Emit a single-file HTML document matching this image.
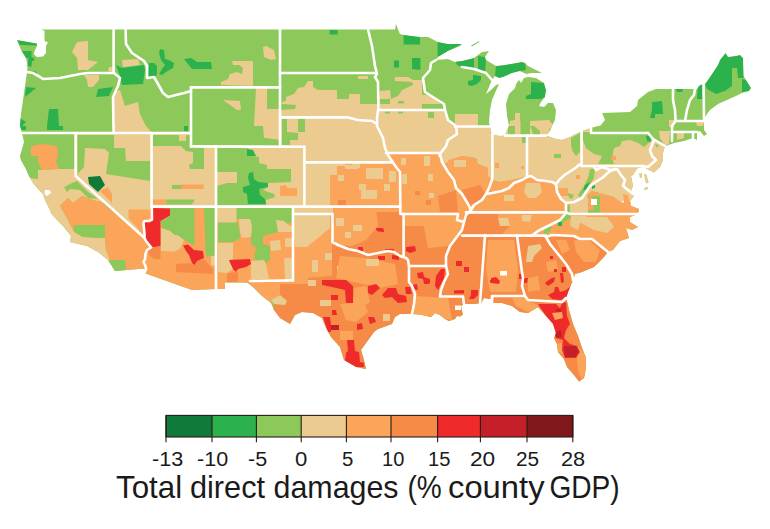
<!DOCTYPE html>
<html><head><meta charset="utf-8"><title>Total direct damages</title>
<style>html,body{margin:0;padding:0;background:#fff}body{width:770px;height:529px;overflow:hidden;font-family:"Liberation Sans",sans-serif}svg{display:block}text{font-family:"Liberation Sans",sans-serif;fill:#1a1a1a}</style>
</head><body>
<svg width="770" height="529" viewBox="0 0 770 529">
<rect width="770" height="529" fill="#fff"/>
<defs><clipPath id="us"><polygon points="40.5,28.5 43,29.4 120,29.4 200,29.4 280,29.4 368,29.4 395,29.4 396,24 398,29.4 400,34 404,35 420,37 428,37 438,42 448,44 462,44 460,46 448,51 438,57 436,60 448,59 455,62 462,61 474,58 482,52 489,51 485,57 486,60 496,66 505,65 522,62 525,63 528,66 534,69 542,73 532,73 526,74 520,71 512,73 503,77 499,78 495,76 492,80 489,87 486,94 491,90 496,85 499,84 495,93 492,100 490,110 489,123 490,126 491,132 494,135 500,136 505,135.6 507,130 509,126 507,116 506,104 509,94 515,88 516,84 519,80 521,83 524,78 528,77 536,78 544,83 546,90 545,97 541,102 539,106 544,107 548,103 553,103 556,110 555,120 552,126 550,131 546,135.6 556,139 562,140 570,137 582,131 591,128 598,126 600,126 605,120 602,113 616,112.5 630,112 637,106 638,100 648,92 656,89 673,89 695,89 696,90 700,85 703,84 705,84 708,80 718,65 720,60 725.6,53 728,57 736,56 740,55 743,58 743.6,76 746,80 751,88 749,91 742,93 736,96 727,100 718,104 710,110 707,114 704,119 704,126 704,130 707,134 704,136 700,131 697,132 697,140 693,138 684,141 674,143 666,146 665,146 663,153 663,160 660,167 654,172.5 649,170 643,166.5 637,168.5 633,175 631,176 633,186 631,190 634,196 630,201 631,206 639,209 638,214 630,217 630,222 638,227 632,230 626,228 629,238 620,241 613,250 608,252 603,258 594,267 582,272 575,274 573,280 568,292 566,299 567,301 569,310 573,324 578,336 582,348 586,358 586,368 584,378 579,381.6 574,375 567,367 564,359 558,352 557,344 554,338 556,333 553,324 546,316 538,307 528,313 520,312 512,306 502,303 492,303 494,297 490,299 484,298 481,303.5 479,303.5 472,304 464,304 461,306 462,311 463,314.5 460,316.5 457,316 455,319 449,321 445,319 440,315 435,313 431,317 420,314.5 412,314 410,314 400,314 395,317 392,324 378,329 374,332 366,343 361,350 364,360 366,369 356,367 344,360 340,347 331,337 326,328 322,318 313,313 302,312 295,315 290,324 280,318 274,310 271,303 262,296 254,288 248,283 246,282.6 225,282.6 225,289 216,289 192,290 154,276.5 144.5,273 144,268.5 115,271 108,260 98,252 87,246 70,242 71,236 63,226 57,220 51.5,214 48.5,207 45,200 43,194 38,189 33,183 29,176 26,169 21,160 20,156 24,142 22,133 20,126 21,114 25,86 27,72 27.5,66 26,58 22,52 18.5,44 17,40 37,43.5 37,46 34.5,51 34,54.5 37,57 43,56.5 46,53 46,46 48,42.5 44.5,41 44.5,31"/>
<polygon points="471,45.5 479,41 479.5,42 472,46.5"/>
<polygon points="639.5,173 641.5,173 642,178 640,178"/><polygon points="644.5,174 646,174 648.5,182 646.5,183.5 645,180"/><polygon points="644.5,188 648,187 647,189.5 644.5,190"/>
</clipPath></defs>
<g clip-path="url(#us)">
<rect width="770" height="420" fill="#8cc95a"/>
<polygon fill="#ebcb8f" points="114,133 113,97 115,92 120,90 125,106 138,102 140,114 146,126 152,133"/>
<polygon fill="#ebcb8f" points="75.6,133 151.6,133 151.6,206.6 152,219.5 149,221 144.5,221 143.5,223 144.5,234 144.5,238 75.6,176"/>
<polygon fill="#ebcb8f" points="151.6,133 191,133 191,146.4 216,146.4 216,206.6 151.6,206.6"/>
<polygon fill="#ebcb8f" points="216,146.4 304.4,146.8 304.4,206.6 216,206.6"/>
<polygon fill="#ebcb8f" points="256,88 267,88 267,109 279,109 279,140 264,138 263,126 254,126"/>
<polygon fill="#ebcb8f" points="223,100 240,101 241,110 237,110 230,105"/>
<polygon fill="#ebcb8f" points="280,117 280,110 295,109 296,105 282,104 282,102 286,101 286,97 294,94 298,88 304,87 308,81 313,81 313,87 318,90 337,90 337,99 349,99 349,94 360,94 360,104 378,104 380,91 390,90 391,99 398,96 402,90 413,85 412,82 395,81 394.4,77 408,77 413,80 422,80 422,95 426,95 433,97 440,104 422,104 422,110 445,110 448,120 455,126 455,114 478,114 478,126 490,126 490,126 509,126 510,121 515,120 515,113 520,113 520,121 530,121 549,120 554,126 548,130 566,128 582,126 591,126 591,133 648,133 654,140 653,139 665,146 670,160 660,200 639,208 631,200 626,203 620,202 614,197 606,195 592,191 586,196 586,205 578,208 566,203 561,199 557,192 556,184 552,182 546,181 537,180 531,176 527,177 520,178 512,180 500,182 492,180 488,176 488,168 478,164 476,158 462,156 452,160 444,164 441,158 440,154 439,153 386,153 388,155 392,161 392,163 345,163 345,166 337,166 337,175 330,175 330,207 304,207 304,147 280,147"/>
<polygon fill="#ebcb8f" points="24,177 38,179 38,170 59,169 75.6,169 75.6,176 108,204 96,201 82,196 73,203 68,198 60,206 68,220 74,232 83,237 105,238 106,250 110,260 104,266 94,256 84,250 64,246 55,228 42,208 36,194 30,188"/>
<polygon fill="#ebcb8f" points="659,131 670,131 669,144 665,146 660,138"/>
<polygon fill="#ebcb8f" points="669,120 674,120 674,127 669,127"/>
<polygon fill="#ebcb8f" points="677,133 684,133 684,138 677,140"/>
<polygon fill="#ebcb8f" points="696,122 704,121 703,126 697,126"/>
<polygon fill="#ebcb8f" points="232,61 253,61 253,86 221,85 221,82 228,79 230,74 237,72 242,74 243,68 239,65 233,65"/>
<polygon fill="#ebcb8f" points="263,47 266,46 274,50 276,59 271,60 264,57"/>
<polygon fill="#ebcb8f" points="77,42 88,41 88,60 98,62 88,70 78,70 77,58 72,52"/>
<polygon fill="#ebcb8f" points="109,67 113,67 113,72 108,71"/>
<polygon fill="#ebcb8f" points="84,75 99,75 99,80 93,87 88,87 87,80"/>
<polygon fill="#ebcb8f" points="122,60 138,59 140,65 123,67"/>
<polygon fill="#ebcb8f" points="358,76 368,76 368,79 358,79"/>
<polygon fill="#ebcb8f" points="426,95 433,97 440,104 426,104"/>
<polygon fill="#fba55a" points="31,146 42,144 57,146 58,156 56,162 59,169 42,170 39,163 31,162"/>
<polygon fill="#fba55a" points="60,206 68,198 73,203 82,196 96,201 100,201 144.5,238 146,241 150,246 151,247.5 147,250 145.5,254 145,259 143.5,262 145.5,266 146,269 145,276 126,276 125,260 110,260 106,250 105,238 105,226 74,226 74,232 68,220"/>
<polygon fill="#fba55a" points="100,191 108,187 112,194 112,203"/>
<polygon fill="#fba55a" points="128.5,209.5 152,209.5 152,219.5 149,221 144.5,221 143.5,223 144.5,238 137.5,228 128.5,218.5"/>
<polygon fill="#fba55a" points="181,184.6 203.6,184.6 203.6,189 181,189"/>
<polygon fill="#fba55a" points="152,199.5 166,199.5 167,204.5 152,204.5"/>
<polygon fill="#fba55a" points="280,186 286,185 287,188 297,188 297,196 280,196"/>
<polygon fill="#fba55a" points="151.6,206.6 216,206.6 216,292 192,292 154,279 142,274 143.5,262 145,259 145.5,254 147,250 151,247.5 150,246 146,241 144.5,238 144.5,234 143.5,223 144.5,221 149,221 152,219.5"/>
<polygon fill="#fba55a" points="216,206.6 293,206.6 293,284 250,285 246,287 225,287 225,293 216,293"/>
<polygon fill="#fba55a" points="293,206.6 333,206.6 333,276 308,278 308,284 280,284 280,295 271,300 272,312 262,308 256,300 248,292 242,284 250,281 293,280.4"/>
<polygon fill="#fba55a" points="330,207 330,175 337,175 337,166 345,166 345,163 392,163 392,161 388,155 386,153 439,153 440,154 441,158 444,164 452,160 462,156 476,158 478,164 488,168 488,176 492,180 500,182 512,180 520,178 527,177 531,176 537,180 546,181 552,182 556,184 557,192 561,199 566,203 570,203 570,213 600,213 600,196 586,196 592,191 606,195 614,197 620,202 626,203 631,200 645,208 645,240 608,252 592,239 580,239 574,236 552,235 546,236 466,236 462,230 456,238 450,246 446,246 428,248 424,226 403,226 403,214 400.4,214 400.4,207"/>
<polygon fill="#f58b47" points="332,206.6 400.4,206.6 400.4,214 403,214 403,226 424,226 428,248 446,246 450,246 456,238 462,230 466,236 546,236 552,235 574,236 580,239 592,239 608,252 640,260 600,400 340,400 270,330 274,304 285,305 287,301 280,295 280,284 308,284 308,278 332,276"/>
<polygon fill="#f58b47" points="464,214 498,214 498,218 508,218 510,226 500,236 462,236 462,226"/>
<polygon fill="#f58b47" points="462,190 480,185 486,194 474,205 468,204"/>
<polygon fill="#f58b47" points="438,196 456,190 458,212 440,212"/>
<polygon fill="#f58b47" points="426,200 431,200 431,205 426,205"/>
<polygon fill="#f58b47" points="151,247.5 160.5,246.5 160.5,259 154,259 150,256 147,250"/>
<polygon fill="#f58b47" points="176,264 190,263 194,265 197,261 204,259 213,269 213,274 176,272"/>
<polygon fill="#f58b47" points="227,273 238,272 238,282 227,282"/>
<polygon fill="#8cc95a" points="77.6,135 114,135 114,148 125,148 126,161 150,161 150,181 106,174 109,153 105,149 85,148 84,167 77.6,174"/>
<polygon fill="#8cc95a" points="64,187 72,183 77,181 80,184 88,192 98,199 88,198 80,190 70,189 67,192"/>
<polygon fill="#8cc95a" points="14,156 38,156 38,179 24,177 18,166"/>
<polygon fill="#8cc95a" points="74,225 105,225 105,238 83,237 75,232"/>
<polygon fill="#8cc95a" points="110,260 125,260 126,276 112,276 106,262"/>
<polygon fill="#8cc95a" points="152,135 178,135 178,146 152,146"/>
<polygon fill="#8cc95a" points="186,135 190,135 190,147 204,148 204,169 190,169 189,165 193,163 193,152 186,151 181,146 178,146 178,135"/>
<polygon fill="#8cc95a" points="172,185 181,185 181,189 172,189"/>
<polygon fill="#8cc95a" points="166,199.5 195,199.5 192,204.5 167,204.5"/>
<polygon fill="#8cc95a" points="217,148 247,148 254,156 259,157 259,163 267,165 267,169 291,169 291,182 268,183 268,187 263,190 274,194 275,197 266,200 266,205.6 217,205.6 217,186 227,183 237,183 237,172 217,172"/>
<polygon fill="#8cc95a" points="282,119 287,119 287,132 298,133 298,140 290,140 290,145 282,145"/>
<polygon fill="#8cc95a" points="298,119 305,119 305,132 298,132"/>
<polygon fill="#8cc95a" points="264,138 279,140 279,146 264,146"/>
<polygon fill="#8cc95a" points="170,208 194.5,208 194.5,246 192,244 184,240 179,236 174,234.5 170,231 162,228 161,221 170,216"/>
<polygon fill="#8cc95a" points="204,208 215,208 215,255 207,257 205.6,252"/>
<polygon fill="#8cc95a" points="218,226 239,226 240,238 234,242 218,242"/>
<polygon fill="#8cc95a" points="236,208 292,208 292,222 283,226 283,231 270,234 263,236 263,244 270,246 270,260 266,263 254,259 256,248 251,244 251,237 252,226 250,219 236,219"/>
<polygon fill="#8cc95a" points="218,222 238,222 238,226 218,226"/>
<polygon fill="#ebcb8f" points="217,208 236.5,208 236.5,222.5 217,222.5"/>
<polygon fill="#ebcb8f" points="239,219 250,219 252,226 251,237 242,238 240,232"/>
<polygon fill="#ebcb8f" points="270,241 280,240 281,250 271,251"/>
<polygon fill="#ebcb8f" points="284,226 292,226 292,232 285,232"/>
<polygon fill="#ebcb8f" points="285,238 292,238 292,247 285,247"/>
<polygon fill="#ebcb8f" points="284,258 292,258 292,279 285,279"/>
<polygon fill="#ebcb8f" points="218,243 233,243 233,259 229,261 233,269 227,273 218,272"/>
<polygon fill="#ebcb8f" points="251,261 264,260 266,264 269,279 251,279"/>
<polygon fill="#ebcb8f" points="276,220 284,221 290,226 290,232 278,232"/>
<polygon fill="#ebcb8f" points="161,228 170,231 174,234.5 179,236 184,240 180,249 174,251.5 161,251"/>
<polygon fill="#ebcb8f" points="211,256 215,256 215,266 211,265"/>
<polygon fill="#8cc95a" points="380,99 390,99 390,104 380,104"/>
<polygon fill="#8cc95a" points="398,101 404,101 404,103.6 398,103.6"/>
<polygon fill="#8cc95a" points="428,112 434,112 434,118 428,118"/>
<polygon fill="#8cc95a" points="385,111.6 390,111.6 390,113.6 385,113.6"/>
<polygon fill="#8cc95a" points="398,111.6 403,111.6 403,113.6 398,113.6"/>
<polygon fill="#8cc95a" points="571,138 580,133 580,152 576,156 573,152 571,146"/>
<polygon fill="#8cc95a" points="554,154 561,154 561,158 554,158"/>
<polygon fill="#8cc95a" points="522,137 526,137 526,143 522,143"/>
<polygon fill="#8cc95a" points="583,132 648,132 652,140 644,147 638,143 630,140 622,141 620,146 614,148 612,158 614,164 598,164 602,156 594,154 586,148 583,140"/>
<polygon fill="#8cc95a" points="655,144 659,145 657,148"/>
<polygon fill="#8cc95a" points="590,169 595,169 594,178 590,184 584,194 580,198 578,195 584,186 588,178"/>
<polygon fill="#8cc95a" points="565,206 576,205 578,208 573,214 571,218 564,222 560,226 557,225 562,219 566,213"/>
<polygon fill="#8cc95a" points="544,227 552,226 550,232 544,235"/>
<polygon fill="#8cc95a" points="568,193 574,195 572,199 567,197"/>
<polygon fill="#2bb24c" points="585,185 590,182 588,188 583,191"/>
<polygon fill="#2bb24c" points="558,222 562,222 562,226 558,226"/>
<polygon fill="#2bb24c" points="592,186 595,185 595,188 592,189"/>
<polygon fill="#2bb24c" points="17,40 37,43.5 36.5,45.5 20,45"/>
<polygon fill="#2bb24c" points="22,51 31.5,51 31.5,57 34.5,58.5 34,61 32,61 31.5,66.5 27.5,66.5 28.5,58 26,58"/>
<polygon fill="#2bb24c" points="33,71 37,72 36,76 32,74"/>
<polygon fill="#2bb24c" points="98,89 113,87 109,96 96,97"/>
<polygon fill="#2bb24c" points="26,87 36,88 30,93 25,97"/>
<polygon fill="#2bb24c" points="49,109 58,109 59,126 47,126"/>
<polygon fill="#2bb24c" points="20,118 26,122 22,126 20,126"/>
<polygon fill="#2bb24c" points="47,126 63,126 63,130 47,130"/>
<polygon fill="#2bb24c" points="20,126 26,126 26,130 21,130"/>
<polygon fill="#2bb24c" points="116,65 122,68 144,65 145,70 143,84 122,85 120,76"/>
<polygon fill="#2bb24c" points="184,126 188,126 188,131 184,131"/>
<polygon fill="#2bb24c" points="149,63 154,63 157,66 157,74 154,78 148,78"/>
<polygon fill="#2bb24c" points="160,49 164,50 165,59 169,60 174,63 173,68 166,72 162,75 159,74 162,69 165,65 161,60 159,53"/>
<polygon fill="#2bb24c" points="184,59 191,58 197,62 211,62 212,69 192,69 188,64"/>
<polygon fill="#2bb24c" points="329.6,30 337.6,30 337.6,34.4 329.6,34.4"/>
<polygon fill="#2bb24c" points="403.6,35 420,37 420,44.4 403.6,44.4"/>
<polygon fill="#2bb24c" points="437.6,42 448,44 462,44 448,51 437.6,57"/>
<polygon fill="#2bb24c" points="394,60.6 399,60.6 399,67.4 394,67.4"/>
<polygon fill="#2bb24c" points="412,58 420.4,58 420.4,70 412,69"/>
<polygon fill="#2bb24c" points="473,75 481,76 481,80 477,84 472,86 468,85 468,81 473,80"/>
<polygon fill="#2bb24c" points="455,61 462,61 474,58 474,69 462,67 457,65"/>
<polygon fill="#2bb24c" points="478,56 485,57 486,60 485,73 478,71"/>
<polygon fill="#2bb24c" points="496,66 505,65 522,62 525,63 526,70 520,71 512,73 503,77 499,78 495,76"/>
<polygon fill="#2bb24c" points="531,82 544,83 546,90 545,97 541,99 526,99 526,96 531,94"/>
<polygon fill="#2bb24c" points="652,102 662,101 663,114 655,114 655,118 650,118 652,110"/>
<polygon fill="#2bb24c" points="676,89 683,89 682,92 677,92"/>
<polygon fill="#2bb24c" points="698,86 702,85 702.4,99 697,99"/>
<polygon fill="#2bb24c" points="646,136 650,135 651,142 647,141"/>
<polygon fill="#2bb24c" points="705,84 708,80 718,65 720,60 725.6,53 728,57 736,56 740,55 743,58 743.6,78 738,78 737,68 732,68 732,86 725,91 716,94 707,89"/>
<polygon fill="#2bb24c" points="742,79 746,80 751,88 749,91 742,92"/>
<polygon fill="#2bb24c" points="247,149 253,150 256,156 247,156"/>
<polygon fill="#2bb24c" points="249,173 253,172 254,179 258,182 268,183 268,187 259,189 260,195 265,199 266,204 248,204 247,194 243,192 243,187 250,185 248,178"/>
<polygon fill="#107a3b" points="88,177 100,176 105,185 98,192 89,184"/>
<polygon fill="#ee2a2b" points="152,208 170,208.5 170,215.5 160.5,221 160.5,246 154,247 151,246.5 150,246 146,241 144.5,238 144.5,234 143.5,223 144.5,221 149,221 152,219.5"/>
<polygon fill="#ee2a2b" points="183,245.5 188,244.5 194,250 203,251 204,258 197,261 194.5,265 192,263 189,255 186,251"/>
<polygon fill="#ee2a2b" points="229,260 250,259 251,264 246,267 238,269 236,272 233,269"/>
<polygon fill="#8cc95a" points="520.5,120 530,120 530,136 520.5,136"/>
<polygon fill="#8cc95a" points="508,126 515,126 515,135 508,135"/>
<polygon fill="#8cc95a" points="530,126 534,126 540,131 540,136 533,136 532,130"/>
<polygon fill="#ebcb8f" points="179,135 186,135 186,141 179,141"/>
<polygon fill="#ffffff" points="45,190 50,190 51,193 47,196 44.5,194"/>
<polygon fill="#ebcb8f" points="366,168 383,168 383,179 366,179"/>
<polygon fill="#ebcb8f" points="338,175 344,175 344,181 338,181"/>
<polygon fill="#ebcb8f" points="359,184 366,184 366,190 377,190 377,199 361,199 361,190 359,190"/>
<polygon fill="#ebcb8f" points="384,184 390,184 390,191 384,191"/>
<polygon fill="#ebcb8f" points="389,171 396,171 396,182 389,182"/>
<polygon fill="#ebcb8f" points="345,165 358,165 358,169 345,169"/>
<polygon fill="#f58b47" points="338,200 346,200 346,205 338,205"/>
<polygon fill="#ebcb8f" points="401,158 406,158 406,165 401,165"/>
<polygon fill="#ebcb8f" points="424,156 430,156 430,166 424,166"/>
<polygon fill="#ebcb8f" points="402,174 407,174 407,184 402,184"/>
<polygon fill="#ebcb8f" points="428,174 433,174 433,181 428,181"/>
<polygon fill="#ebcb8f" points="429,193 434,193 434,198 429,198"/>
<polygon fill="#fba55a" points="448,160 462,156 462,170 452,172"/>
<polygon fill="#fba55a" points="611,156 616,156 616,160 611,160"/>
<polygon fill="#fba55a" points="495,163 499,163 499,168 495,168"/>
<polygon fill="#fba55a" points="521,166 524,166 524,169 521,169"/>
<polygon fill="#ebcb8f" points="526,183 540,183 542,192 536,198 528,198 524,192"/>
<polygon fill="#ebcb8f" points="504,195 514,195 514,201 504,201"/>
<polygon fill="#ebcb8f" points="557,190 566,190 570,200 561,200"/>
<polygon fill="#fba55a" points="558,188 568,188 568,196 560,196"/>
<polygon fill="#fba55a" points="576,175 580,175 580,179 576,179"/>
<polygon fill="#ebcb8f" points="498,218 508,218 510,226 500,226"/>
<polygon fill="#ebcb8f" points="522,215 532,215 530,222 522,221"/>
<polygon fill="#fba55a" points="588,198 592,196 594,210 588,210"/>
<polygon fill="#ffffff" points="591,199 597,199 597,205 591,205"/>
<polygon fill="#ffffff" points="622,201 626,201 626,204 622,204"/>
<polygon fill="#fba55a" points="616,205 624,202 623,194 628,195 630,205 639,208 636,212 616,212"/>
<polygon fill="#ebcb8f" points="293,214 308,214 308,240 293,240"/>
<polygon fill="#ebcb8f" points="308,230 316,230 316,238 308,238"/>
<polygon fill="#ebcb8f" points="312,216 322,216 322,224 312,224"/>
<polygon fill="#ebcb8f" points="325,253 332,253 332,260 325,260"/>
<polygon fill="#ebcb8f" points="312,260 318,260 318,272 312,272"/>
<polygon fill="#ebcb8f" points="337,266 344,266 344,273 337,273"/>
<polygon fill="#ebcb8f" points="366,259 379,259 379,266 366,266"/>
<polygon fill="#ebcb8f" points="308,280 316,280 316,286 308,286"/>
<polygon fill="#ebcb8f" points="320,300 331,300 331,306 320,306"/>
<polygon fill="#ebcb8f" points="383,314 390,314 390,321 383,321"/>
<polygon fill="#ebcb8f" points="271,300 280,295 287,301 285,305 274,304"/>
<polygon fill="#ebcb8f" points="354,228 362,228 362,232 354,232"/>
<polygon fill="#ebcb8f" points="334,216 342,216 342,226 334,226"/>
<polygon fill="#fba55a" points="354,288 366,286 370,302 358,310 350,306 354,296"/>
<polygon fill="#fba55a" points="340,304 364,302 368,312 356,322 346,320"/>
<polygon fill="#fba55a" points="340,331 353,331 353,340 340,340"/>
<polygon fill="#fba55a" points="334,228 352,228 352,244 334,242"/>
<polygon fill="#fba55a" points="340,256 366,258 395,264 398,284 380,288 336,278"/>
<polygon fill="#fba55a" points="424,226 448,226 446,246 428,248"/>
<polygon fill="#fba55a" points="414,296 448,298 452,320 414,314"/>
<polygon fill="#fba55a" points="488,240 514,240 518,270 516,292 490,292 486,270"/>
<polygon fill="#fba55a" points="512,298 526,298 530,302 538,305 536,310 528,312 516,306"/>
<polygon fill="#fba55a" points="574,240 590,241 600,250 596,262 584,262 576,252"/>
<polygon fill="#fba55a" points="556,240 566,240 570,250 562,254"/>
<polygon fill="#fba55a" points="528,278 538,276 540,290 528,292"/>
<polygon fill="#fba55a" points="546,262 556,260 558,270 548,272"/>
<polygon fill="#fba55a" points="578,346 586,356 586,370 582,380 578,370 577,358"/>
<polygon fill="#fba55a" points="557,344 562,343 563,354 558,352"/>
<polygon fill="#fba55a" points="554,312 562,312 562,318 555,319"/>
<polygon fill="#ee2a2b" points="322,280 346,280 353,286 353,303 346,303 345,290 332,287 322,285"/>
<polygon fill="#ee2a2b" points="331,295 338,295 338,300 331,300"/>
<polygon fill="#ee2a2b" points="368,286 376,284 380,288 372,295 368,293"/>
<polygon fill="#ee2a2b" points="382,295 388,288 396,288 398,294 406,296 407,302 398,303 392,297 385,298"/>
<polygon fill="#ee2a2b" points="405,287 410,287 412,294 406,294"/>
<polygon fill="#ee2a2b" points="332,310 336,310 337,315 332,315"/>
<polygon fill="#ee2a2b" points="323,317 330,317 331,325 331,332 328,332"/>
<polygon fill="#c5202a" points="331,325 339,325 339,330 331,330"/>
<polygon fill="#ee2a2b" points="368,317 374,317 376,322 370,324"/>
<polygon fill="#ee2a2b" points="357,324 362,323 363,329 357,330"/>
<polygon fill="#ee2a2b" points="347,340 354,340 355,351 359,352 360,362 364,363 364,367 356,367 345,361 346,353 348,351"/>
<polygon fill="#ee2a2b" points="376,228 383,228 384,232 377,231"/>
<polygon fill="#ee2a2b" points="358,247 363,247 363,251 358,251"/>
<polygon fill="#ee2a2b" points="385,249 394,249 394,252 385,252"/>
<polygon fill="#ee2a2b" points="378,256 385,256 385,260 378,260"/>
<polygon fill="#ee2a2b" points="392,255 399,256 399,260 392,259"/>
<polygon fill="#ee2a2b" points="406,247 415,246 416,251 410,253 406,251"/>
<polygon fill="#ee2a2b" points="417,273 423,272 424,277 430,279 430,283 424,284 423,279 418,278"/>
<polygon fill="#ee2a2b" points="436,276 441,269 445,269 444,278 438,290 435,286"/>
<polygon fill="#ee2a2b" points="412,285 417,284 418,290 413,289"/>
<polygon fill="#ee2a2b" points="424,280 430,280 429,284 424,284"/>
<polygon fill="#ee2a2b" points="456,261 462,261 462,266 456,266"/>
<polygon fill="#ee2a2b" points="464,267 469,267 469,272 464,272"/>
<polygon fill="#ee2a2b" points="454,290.5 464,290 464,293.5 454,293.5"/>
<polygon fill="#ee2a2b" points="471,290 478,290 478,295 474,299 469,299 471,295"/>
<polygon fill="#ffffff" points="455,305.5 461,305.5 461,310 455,310"/>
<polygon fill="#ee2a2b" points="491,278 496,277 500,281 499,284 491,283"/>
<polygon fill="#ee2a2b" points="519,274 522,274 522,279 519,279"/>
<polygon fill="#ffffff" points="500,271 507,271 507,275.6 500,275.6"/>
<polygon fill="#ee2a2b" points="524,278 528,278 527,283 524,283"/>
<polygon fill="#ee2a2b" points="550,256 553,256 553,259 550,259"/>
<polygon fill="#ee2a2b" points="554,269 557,269 557,272 554,272"/>
<polygon fill="#ee2a2b" points="562,267 566,267 566,272 562,272"/>
<polygon fill="#ee2a2b" points="560,273 563,273 564,282 561,283"/>
<polygon fill="#ee2a2b" points="545,283 550,279 555,277 554,282 548,286"/>
<polygon fill="#ee2a2b" points="548,295 554,292 555,287 558,287 560,292 566,290 571,286 570,292 566,299 560,300 552,299"/>
<polygon fill="#ee2a2b" points="490,280 497,280 497,282.5 490,282.5"/>
<polygon fill="#ee2a2b" points="538,304 556,304 560,308 562,303 566,302 567,316 570,324 566,330 564,338 570,344 577,346 580,352 576,358 565,358 562,350 563,340 556,338 555,333 553,324 546,316"/>
<polygon fill="#c5202a" points="564,346 576,346 579,352 575,357 565,357"/>
<polygon fill="#c5202a" points="555,332 561,330 562,337 556,338"/>
<polygon fill="#c5202a" points="556,309 561,309 561,311.5 556,311.5"/>
<polygon fill="#fba55a" points="552,313 562,312 563,318 555,320"/>
<polygon fill="#ebcb8f" points="570,203 586,193 588,198 588,213 570,213"/>
<polygon fill="#ebcb8f" points="571,216 586,216 588,222 580,223 578,230 570,226"/>
<polygon fill="#ebcb8f" points="596,220 606,218 612,224 610,230 600,229 594,227"/>
<polygon fill="#ebcb8f" points="528,246 540,244 542,248 534,256 532,262 526,262 527,254"/>
<polygon fill="#ebcb8f" points="581,217 607,217 614,227 607,233 594,230 581,223"/>
<polygon fill="#ebcb8f" points="293,207.6 333,207.6 333,214 293,214"/>
<polygon fill="#fba55a" points="333,207.6 376,207.6 378,226 366,240 352,246 338,245 333,242"/>
<polygon fill="#ebcb8f" points="336,218 344,218 344,226 336,226"/>
<polygon fill="#ebcb8f" points="345,232 351,232 351,238 345,238"/>
<polygon fill="#fba55a" points="362,207.6 400,207.6 400,212 362,212"/>
<polygon fill="#ebcb8f" points="295,215 330,215 330,228 307,247 295,247"/>
<polygon fill="#ebcb8f" points="353,225 362,225 362,231 353,231"/>
<polygon fill="#f58b47" points="415,191 420,191 420,195 415,195"/>
<polygon fill="#ebcb8f" points="454,160 466,160 466,167 454,167"/>
<polygon fill="#ebcb8f" points="352,164 360,164 360,168 352,168"/>
<polygon fill="#ee2a2b" points="376,228 383,228 384,232 377,231"/>
<polygon fill="#ee2a2b" points="385,249 394,249 394,252 385,252"/>
<polygon fill="#ee2a2b" points="378,256 385,256 385,260 378,260"/>
<polygon fill="#ebcb8f" points="366,259 379,259 379,266 366,266"/>
</g>
<g fill="none" stroke="#fff" stroke-width="2.6" stroke-linejoin="round" stroke-linecap="round">
<polyline points="27,72 33,73 40,77 43,79 60,78 80,74 88,73 114,73"/>
<polyline points="113.6,29 113.6,73"/>
<polyline points="114,73 120,78 118,86 113,97 113.6,133"/>
<polyline points="125.6,29 126,44 132,53 144,61 147,66 147,78 154,77 158,84 163,93 168,97 184,93 191,91"/>
<polyline points="22,133 191,133"/>
<polyline points="191,87.4 191,146.4"/>
<polyline points="191,87.4 280,87.4"/>
<polyline points="280,29 280,146.4"/>
<polyline points="191,146.4 304.4,146.8"/>
<polyline points="280,73 375,73"/>
<polyline points="280,117.4 348,117.4 358,120 372,121 377,124"/>
<polyline points="368,29.4 372,46 375,66 377,74 375,77 378,82 378.4,108 377,118 377,126 383,138 385,148 388,155 392,161 396,167 400,172 400.4,214 403.6,214 403.6,256"/>
<polyline points="436,60 431,63 430,70 423,78 425,92 436,99 444,104 445,110"/>
<polyline points="378.4,110 445,110"/>
<polyline points="445,110 448,120 456,126 457,134 448,140 446,146 440,154 442,162 448,172 454,180 456,188 462,194 468,204 471,210 466,215 464,222 462,230 456,238 450,246 446,256 446,266 448,274 444,282 441,290 440,296.5 463,296.5 464,304"/>
<polyline points="386,153 439,153 440,156"/>
<polyline points="455,126.5 490,126.5"/>
<polyline points="462,67 474,69 486,73 492,80"/>
<polyline points="304.4,162.4 392,162.4"/>
<polyline points="304.4,146.8 304.4,206.6"/>
<polyline points="216,146.4 216,289"/>
<polyline points="151.6,133 151.6,206.6"/>
<polyline points="151.6,206.6 400.4,206.6"/>
<polyline points="151.8,206.6 152,219.5 149,221 144.5,221 143.5,223 144.5,234 144.5,238 146,241 150,246 151,247.5 147,250 145.5,254 145,259 143.5,262 145.5,266 146,269 144.5,272.5"/>
<polyline points="75.6,133 75.6,176 144.5,238"/>
<polyline points="293,206.6 293,280.4"/>
<polyline points="250,281 293,280.4"/>
<polyline points="293,214 332.5,214 332.5,242 338,245 348,249 358,251 368,255 378,253 388,251 394,252 400,256 406,258 408,260 409,266 409,282 412,286 415,294 414,304 412,314"/>
<polyline points="403.6,214 458,214 457,220 464,222"/>
<polyline points="409,266 446,266"/>
<polyline points="492.4,134 492.4,176 492,180 489,188 486,194"/>
<polyline points="471,210 474,205 482,200 486,194 492,193 502,191 509,188 514,183 522,180 527,177 531,176 537,180 546,181 552,182 556,184 560,179 566,174 574,169 579,165 581.6,164"/>
<polyline points="505,135.6 546,135.6"/>
<polyline points="527,135.6 527,177"/>
<polyline points="581.6,131 581.6,166"/>
<polyline points="581.6,166 643,166"/>
<polyline points="591,128 591,133 648,133"/>
<polyline points="648,133 654,140 650,150 652,156 656,160 648,167 643,166"/>
<polyline points="653,139 665,146"/>
<polyline points="673,89 673,100 675,110 675.6,121 672,126 672,141"/>
<polyline points="695,89 694,95 690,100 687,110 685,121"/>
<polyline points="703.6,84 704,119"/>
<polyline points="675.6,121 704,121"/>
<polyline points="672,132 697,132"/>
<polyline points="693,132 693,138"/>
<polyline points="556,184 557,192 561,199 566,203 574,202 582,198 590,186 594,183 602,178 610,171 616,169"/>
<polyline points="594,166 596,170 602,167 610,170 617,169 621,175 625,180 623,186 628,190 633,194"/>
<polyline points="466,212.4 566,212.4"/>
<polyline points="566,212.4 570,214 638,214"/>
<polyline points="566,203 566,212.4"/>
<polyline points="566,213 560,220 550,225 538,231 532,235.6"/>
<polyline points="462,235.6 546,235.6 546,237"/>
<polyline points="485,235.6 480,303.5"/>
<polyline points="517,235.6 522,272 523,278 522,286 525,296"/>
<polyline points="492,303 492,296 525,296 528,300 562,302 566,298"/>
<polyline points="546,237 550,244 558,254 566,264 572,274 573,280"/>
<polyline points="546,237 552,235 574,236 580,239 592,239 608,252"/>
</g>
<g>
<rect x="166.00" y="415.4" width="46.30" height="21.6" fill="#107a3b"/>
<rect x="212.00" y="415.4" width="44.70" height="21.6" fill="#2bb24c"/>
<rect x="256.40" y="415.4" width="45.10" height="21.6" fill="#8cc95a"/>
<rect x="301.20" y="415.4" width="45.50" height="21.6" fill="#ebcb8f"/>
<rect x="346.40" y="415.4" width="44.90" height="21.6" fill="#fba55a"/>
<rect x="391.00" y="415.4" width="46.90" height="21.6" fill="#f58b47"/>
<rect x="437.60" y="415.4" width="43.10" height="21.6" fill="#ee2a2b"/>
<rect x="480.40" y="415.4" width="46.90" height="21.6" fill="#c5202a"/>
<rect x="527.00" y="415.4" width="46.10" height="21.6" fill="#7f171b"/>
<rect x="166.0" y="415.4" width="406.8" height="21.6" fill="none" stroke="#2a1c14" stroke-width="1.1"/>
<line x1="166.00" y1="415.4" x2="166.00" y2="442.2" stroke="#2a1c14" stroke-width="1.1"/>
<line x1="212.00" y1="415.4" x2="212.00" y2="442.2" stroke="#2a1c14" stroke-width="1.1"/>
<line x1="256.40" y1="415.4" x2="256.40" y2="442.2" stroke="#2a1c14" stroke-width="1.1"/>
<line x1="301.20" y1="415.4" x2="301.20" y2="442.2" stroke="#2a1c14" stroke-width="1.1"/>
<line x1="346.40" y1="415.4" x2="346.40" y2="442.2" stroke="#2a1c14" stroke-width="1.1"/>
<line x1="391.00" y1="415.4" x2="391.00" y2="442.2" stroke="#2a1c14" stroke-width="1.1"/>
<line x1="437.60" y1="415.4" x2="437.60" y2="442.2" stroke="#2a1c14" stroke-width="1.1"/>
<line x1="480.40" y1="415.4" x2="480.40" y2="442.2" stroke="#2a1c14" stroke-width="1.1"/>
<line x1="527.00" y1="415.4" x2="527.00" y2="442.2" stroke="#2a1c14" stroke-width="1.1"/>
<line x1="572.80" y1="415.4" x2="572.80" y2="442.2" stroke="#2a1c14" stroke-width="1.1"/>
</g>
<g font-size="20">
<text x="152.00" y="465.60" textLength="31.16" lengthAdjust="spacingAndGlyphs">-13</text>
<text x="197.00" y="465.60" textLength="31.12" lengthAdjust="spacingAndGlyphs">-10</text>
<text x="248.00" y="465.60" textLength="19.16" lengthAdjust="spacingAndGlyphs">-5</text>
<text x="295.00" y="465.60" textLength="12.29" lengthAdjust="spacingAndGlyphs">0</text>
<text x="342.00" y="465.60" textLength="11.36" lengthAdjust="spacingAndGlyphs">5</text>
<text x="382.00" y="465.60" textLength="22.28" lengthAdjust="spacingAndGlyphs">10</text>
<text x="428.00" y="465.60" textLength="22.39" lengthAdjust="spacingAndGlyphs">15</text>
<text x="470.00" y="465.60" textLength="25.21" lengthAdjust="spacingAndGlyphs">20</text>
<text x="516.00" y="465.60" textLength="23.17" lengthAdjust="spacingAndGlyphs">25</text>
<text x="561.00" y="465.60" textLength="24.20" lengthAdjust="spacingAndGlyphs">28</text>
</g>
<g font-size="30.5">
<text x="116.00" y="498.00" textLength="66.16" lengthAdjust="spacingAndGlyphs">Total</text>
<text x="190.00" y="498.00" textLength="75.02" lengthAdjust="spacingAndGlyphs">direct</text>
<text x="273.50" y="498.00" textLength="125.05" lengthAdjust="spacingAndGlyphs">damages</text>
<text x="407.50" y="498.00" textLength="34.25" lengthAdjust="spacingAndGlyphs">(%</text>
<text x="448.00" y="498.00" textLength="96.54" lengthAdjust="spacingAndGlyphs">county</text>
<text x="549.50" y="498.00" textLength="70.15" lengthAdjust="spacingAndGlyphs">GDP)</text>
</g>
</svg></body></html>
